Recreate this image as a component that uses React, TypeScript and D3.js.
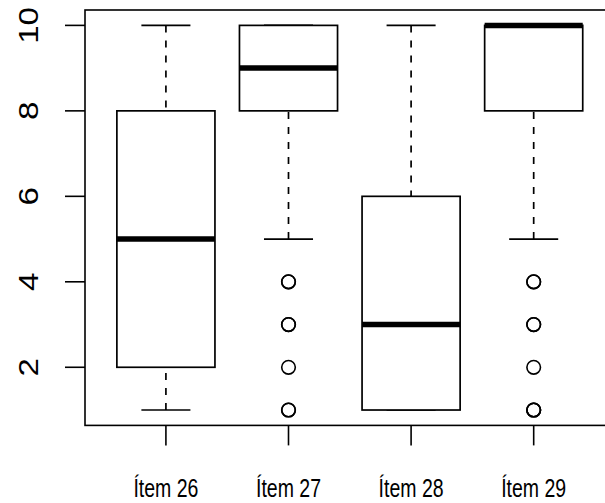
import React, { useEffect, useRef } from 'react';
import * as d3 from 'd3';

// Items and their five-number summaries
const items = ['Ítem 26', 'Ítem 27', 'Ítem 28', 'Ítem 29'];
const whiskerLow = [1, 5, 1, 5];
const q1 = [2, 8, 1, 8];
const median = [5, 9, 3, 10];
const q3 = [8, 10, 6, 10];
const whiskerHigh = [10, 10, 10, 10];
// repeated values are drawn over each other, like R does
const outliers = [
  [],
  [4, 4, 3, 3, 2, 1, 1],
  [],
  [4, 4, 3, 3, 2, 1, 1, 1],
];
const yTicks = [2, 4, 6, 8, 10];

export default function App() {
  const ref = useRef<SVGSVGElement>(null);

  useEffect(() => {
    const svg = d3.select(ref.current);
    svg.selectAll('*').remove();

    const width = 605;
    const height = 503;
    // plot region, right edge runs past the picture in the original
    const left = 85, right = 614.6, top = 10, bottom = 425.4;

    const x = d3.scaleLinear().domain([0.34, 4.66]).range([left, right]);
    const y = d3.scaleLinear().domain([0.64, 10.36]).range([bottom, top]);

    svg.attr('width', width).attr('height', height);
    svg.append('rect').attr('width', width).attr('height', height).attr('fill', '#fff');

    const g = svg.append('g');

    items.forEach((name, i) => {
      const cx = x(i + 1);
      const bw = x(i + 1.4) - cx;
      const sw = x(i + 1.2) - cx;

      // whiskers (dashed), drawn from the whisker end towards the box
      [[whiskerLow[i], q1[i]], [whiskerHigh[i], q3[i]]].forEach(([a, b]) => {
        if (a === b) return;
        g.append('line')
          .attr('x1', cx).attr('x2', cx)
          .attr('y1', y(a)).attr('y2', y(b))
          .attr('stroke', '#000').attr('stroke-width', 1.7)
          .attr('stroke-dasharray', '7,8');
      });

      // staples
      [whiskerLow[i], whiskerHigh[i]].forEach(v => {
        g.append('line')
          .attr('x1', cx - sw).attr('x2', cx + sw)
          .attr('y1', y(v)).attr('y2', y(v))
          .attr('stroke', '#000').attr('stroke-width', 1.7);
      });

      // box
      g.append('rect')
        .attr('x', cx - bw).attr('width', 2 * bw)
        .attr('y', y(q3[i])).attr('height', y(q1[i]) - y(q3[i]))
        .attr('fill', '#fff')
        .attr('stroke', '#000').attr('stroke-width', 1.7);

      // median
      g.append('line')
        .attr('x1', cx - bw).attr('x2', cx + bw)
        .attr('y1', y(median[i])).attr('y2', y(median[i]))
        .attr('stroke', '#000').attr('stroke-width', 5.5);

      // outliers
      outliers[i].forEach(v => {
        g.append('circle')
          .attr('cx', cx).attr('cy', y(v)).attr('r', 6.8)
          .attr('fill', 'none')
          .attr('stroke', '#000').attr('stroke-width', 1.6);
      });
    });

    // frame
    svg.append('rect')
      .attr('x', left).attr('y', top)
      .attr('width', right - left).attr('height', bottom - top)
      .attr('fill', 'none').attr('stroke', '#000').attr('stroke-width', 1.6);

    // y axis (original image is a bit stretched vertically, so the text is too)
    const yAxis = svg.append('g');
    yTicks.forEach(t => {
      yAxis.append('line')
        .attr('x1', left - 20).attr('x2', left)
        .attr('y1', y(t)).attr('y2', y(t))
        .attr('stroke', '#000').attr('stroke-width', 1.6);
      yAxis.append('text')
        .attr('transform', `translate(28,${y(t)}) scale(1,1.18) rotate(-90)`)
        .attr('text-anchor', 'middle')
        .attr('dominant-baseline', 'central')
        .attr('font-family', 'Liberation Sans, Arial, sans-serif')
        .attr('font-size', 28)
        .text(t);
    });

    // x axis
    const xAxis = svg.append('g');
    items.forEach((name, i) => {
      const cx = x(i + 1);
      xAxis.append('line')
        .attr('x1', cx).attr('x2', cx)
        .attr('y1', bottom).attr('y2', bottom + 20)
        .attr('stroke', '#000').attr('stroke-width', 1.6);
      xAxis.append('text')
        .attr('transform', `translate(${cx},497) scale(1,1.3)`)
        .attr('text-anchor', 'middle')
        .attr('font-family', 'Liberation Sans, Arial, sans-serif')
        .attr('font-size', 19.5)
        .text(name);
    });
  }, []);

  return (
    <svg ref={ref} style={{ position: 'fixed', left: 0, top: 0, display: 'block' }} />
  );
}
